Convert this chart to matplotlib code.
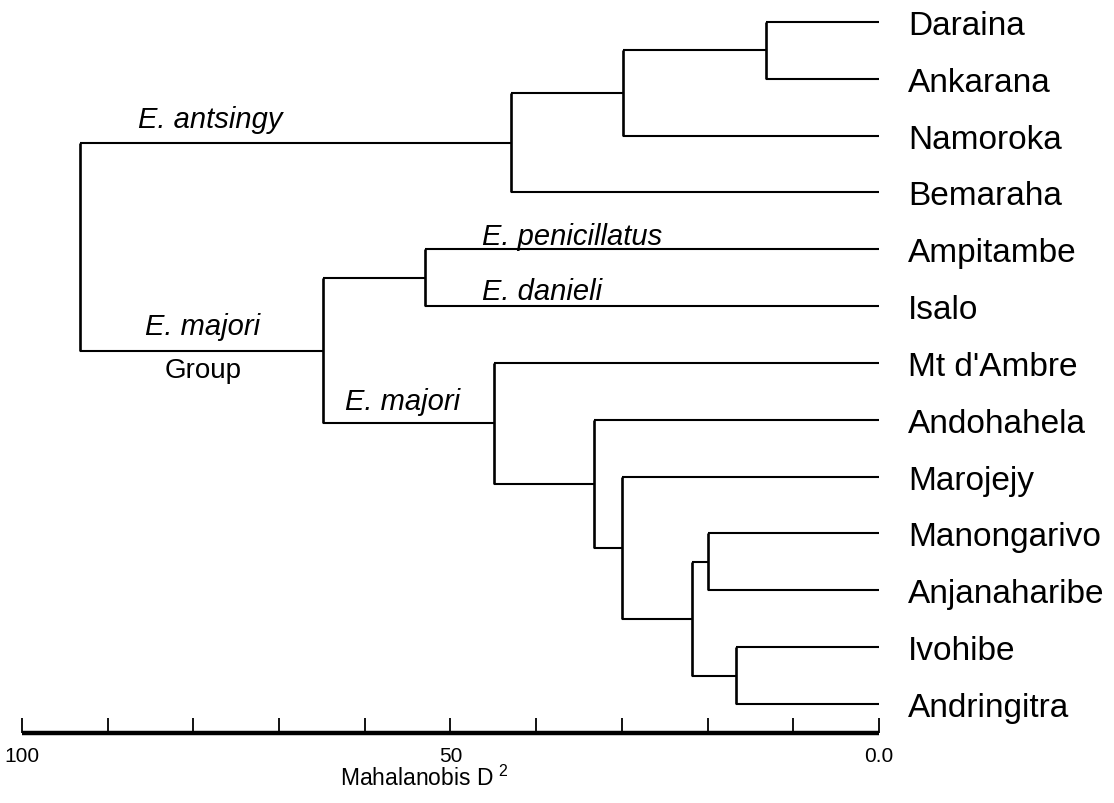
import matplotlib
matplotlib.use("Agg")
import matplotlib.pyplot as plt

plt.rcParams["font.family"] = ["Liberation Sans", "DejaVu Sans"]
plt.rcParams["mathtext.fontset"] = "custom"
plt.rcParams["mathtext.rm"] = "Liberation Sans"

# leaves, top to bottom
leaves = ["Daraina", "Ankarana", "Namoroka", "Bemaraha", "Ampitambe", "Isalo",
          "Mt d'Ambre", "Andohahela", "Marojejy", "Manongarivo", "Anjanaharibe",
          "Ivohibe", "Andringitra"]

# merges: (child a, child b, Mahalanobis D^2); new nodes numbered from len(leaves)
merge_a = [0, 13, 14, 4, 9, 11, 17, 8, 7, 6, 16, 15]
merge_b = [1, 2, 3, 5, 10, 12, 18, 19, 20, 21, 22, 23]
merge_d = [13.2, 29.9, 42.9, 53.0, 20.0, 16.7, 21.8, 30.0, 33.3, 44.9, 64.9, 93.2]

scale_ticks = [100, 90, 80, 70, 60, 50, 40, 30, 20, 10, 0]
scale_labels = {100: "100", 50: "50", 0: "0.0"}

# pixel -> data helpers (layout only)
PX0, PXU = 879, 8.57      # x pixel of D=0, pixels per unit
PY0, PYU = 23, 56.83      # y pixel of first leaf, pixels per leaf
def dx(px):
    return (PX0 - px) / PXU
def dy(py):
    return (py - PY0) / PYU

fig = plt.figure(figsize=(11.14, 8.04), dpi=100)
ax = fig.add_axes([0, 0, 1, 1])
ax.set_xlim(dx(0), dx(1114))
ax.set_ylim(dy(804), dy(0))
ax.axis("off")

lw = 1.5
n = len(leaves)
node_y = {i: float(i) for i in range(n)}
node_x = {i: 0.0 for i in range(n)}
for k, (a, b, d) in enumerate(zip(merge_a, merge_b, merge_d)):
    node = n + k
    node_x[node] = d
    node_y[node] = (node_y[a] + node_y[b]) / 2
    ax.plot([d, d], [node_y[a], node_y[b]], color="black", lw=lw + 0.4,
            solid_capstyle="butt")
    for c in (a, b):
        ax.plot([d, node_x[c]], [node_y[c], node_y[c]], color="black", lw=lw,
                solid_capstyle="butt")

for i, name in enumerate(leaves):
    ax.annotate(name, xy=(0, i), xytext=(21, -8.6), textcoords="offset points",
                fontsize=24, va="baseline", ha="left")

# clade labels
it = dict(fontsize=21, style="italic", va="baseline", ha="left")
ax.text(dx(138), dy(128), "E. antsingy", **it)
ax.text(dx(482), dy(245), "E. penicillatus", **it)
ax.text(dx(482), dy(300), "E. danieli", **it)
ax.text(dx(145), dy(335), "E. majori", **it)
ax.text(dx(345), dy(410), "E. majori", **it)
ax.text(dx(203), dy(378), "Group", fontsize=20, va="baseline", ha="center")

# scale bar
y_axis = dy(734)
ax.plot([scale_ticks[0], scale_ticks[-1]], [y_axis, y_axis], color="black",
        lw=3.2, solid_capstyle="butt")
ax.vlines(scale_ticks, dy(719), y_axis, color="black", lw=1.3)
for t in scale_ticks:
    if t in scale_labels:
        ax.text(t, dy(762), scale_labels[t], fontsize=15, ha="center",
                va="baseline")
ax.text(dx(424), dy(786), r"Mahalanobis D$^{\ 2}$", fontsize=16.5,
        ha="center", va="baseline")

fig.savefig("out.png", dpi=100)
